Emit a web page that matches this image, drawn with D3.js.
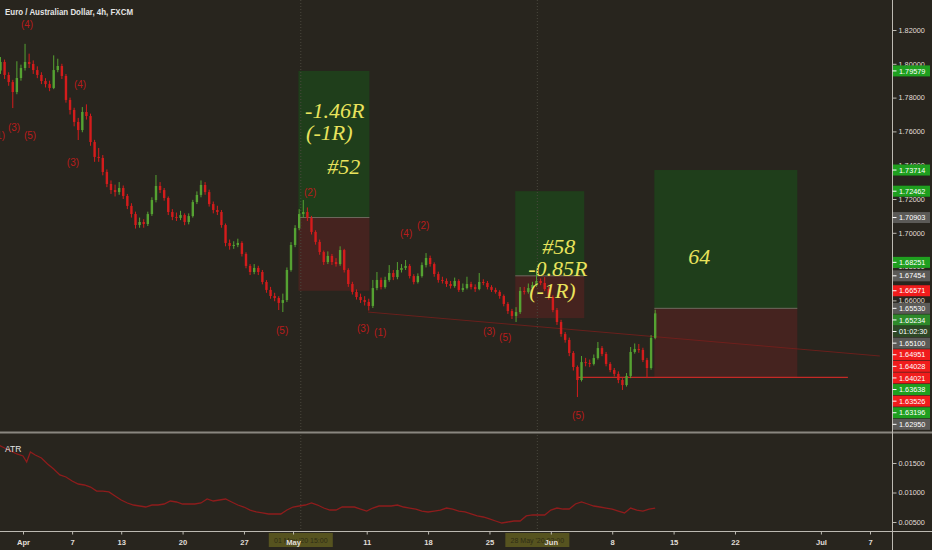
<!DOCTYPE html>
<html><head><meta charset="utf-8">
<script src="https://cdn.jsdelivr.net/npm/d3@7/dist/d3.min.js"></script>
<style>html,body{margin:0;padding:0;background:#28251e;overflow:hidden}svg{display:block}</style>
</head><body><svg id="c" width="932" height="550"></svg>
<script>
// ---------- DATA ----------
const title = "Euro / Australian Dollar, 4h, FXCM";
const firstBarDay = -2 + 1/6;     // trading-day index of first bar (Apr 1 = day 0)
const barStep = 1/3;              // bars shown every 8h
const firstOpen = 1.7960;
const closes = [1.8011,1.7934,1.7892,1.7833,1.7916,1.7975,1.8011,1.7999,1.7963,1.7934,
1.7898,1.7880,1.7857,1.7963,1.7987,1.7928,1.7786,1.7727,1.7656,1.7608,
1.7715,1.7691,1.7537,1.7449,1.7443,1.7360,1.7289,1.7253,1.7241,1.7265,
1.7218,1.7159,1.7111,1.7046,1.7064,1.7052,1.7111,1.7194,1.7277,1.7253,
1.7206,1.7123,1.7094,1.7088,1.7105,1.7064,1.7099,1.7182,1.7224,1.7283,
1.7241,1.7170,1.7135,1.7123,1.7046,1.6940,1.6922,1.6928,1.6940,1.6875,
1.6804,1.6768,1.6792,1.6768,1.6709,1.6662,1.6626,1.6614,1.6585,1.6602,
1.6780,1.6928,1.7028,1.7111,1.7123,1.7088,1.7005,1.6946,1.6886,1.6827,
1.6863,1.6827,1.6815,1.6898,1.6780,1.6697,1.6650,1.6620,1.6602,1.6591,
1.6567,1.6673,1.6721,1.6679,1.6721,1.6762,1.6738,1.6780,1.6792,1.6804,
1.6744,1.6709,1.6744,1.6809,1.6851,1.6815,1.6756,1.6721,1.6715,1.6697,
1.6685,1.6715,1.6662,1.6673,1.6697,1.6679,1.6667,1.6709,1.6703,1.6679,
1.6662,1.6650,1.6626,1.6579,1.6537,1.6508,1.6531,1.6656,1.6650,1.6673,
1.6691,1.6715,1.6703,1.6667,1.6620,1.6543,1.6472,1.6401,1.6366,1.6289,
1.6206,1.6129,1.6235,1.6230,1.6224,1.6259,1.6318,1.6283,1.6224,1.6188,
1.6165,1.6129,1.6099,1.6153,1.6295,1.6312,1.6307,1.6247,1.6200,1.6378,1.65234];
const highs = [1.8040,1.8025,1.7950,1.7905,1.8015,1.7995,1.8118,1.8060,1.8020,1.7985,
1.7950,1.7915,1.7900,1.8050,1.8030,1.8000,1.7940,1.7800,1.7740,1.7680,
1.7744,1.7760,1.7705,1.7550,1.7502,1.7460,1.7375,1.7310,1.7285,1.7300,
1.7280,1.7230,1.7175,1.7125,1.7090,1.7080,1.7125,1.7210,1.7342,1.7300,
1.7265,1.7215,1.7140,1.7120,1.7130,1.7115,1.7115,1.7195,1.7245,1.7310,
1.7300,1.7255,1.7185,1.7160,1.7135,1.7055,1.6960,1.6950,1.6965,1.6950,
1.6885,1.6815,1.6815,1.6805,1.6780,1.6720,1.6680,1.6645,1.6625,1.6640,
1.6795,1.6945,1.7045,1.7140,1.7194,1.7150,1.7100,1.7015,1.6960,1.6895,
1.6890,1.6875,1.6850,1.6920,1.6905,1.6790,1.6710,1.6665,1.6640,1.6625,
1.6610,1.6721,1.6768,1.6735,1.6740,1.6809,1.6780,1.6827,1.6815,1.6839,
1.6815,1.6755,1.6760,1.6825,1.6880,1.6865,1.6825,1.6770,1.6740,1.6730,
1.6715,1.6735,1.6725,1.6700,1.6740,1.6710,1.6695,1.6762,1.6725,1.6715,
1.6690,1.6675,1.6660,1.6635,1.6590,1.6550,1.6560,1.6679,1.6680,1.6700,
1.6710,1.6762,1.6730,1.6738,1.6680,1.6630,1.6555,1.6485,1.6413,1.6380,
1.6300,1.6215,1.6271,1.6260,1.6250,1.6280,1.6354,1.6330,1.6295,1.6235,
1.6200,1.6180,1.6140,1.6170,1.6324,1.6345,1.6342,1.6320,1.6260,1.6395,1.6545];
const lows = [1.7940,1.7910,1.7870,1.7738,1.7820,1.7900,1.7960,1.7975,1.7940,1.7915,
1.7880,1.7860,1.7838,1.7850,1.7950,1.7910,1.7770,1.7700,1.7630,1.7549,
1.7595,1.7670,1.7515,1.7420,1.7420,1.7340,1.7270,1.7230,1.7215,1.7225,
1.7200,1.7140,1.7090,1.7025,1.7030,1.7030,1.7040,1.7100,1.7180,1.7235,
1.7190,1.7105,1.7075,1.7070,1.7075,1.7045,1.7050,1.7090,1.7170,1.7210,
1.7225,1.7155,1.7115,1.7105,1.7030,1.6920,1.6900,1.6905,1.6915,1.6860,
1.6790,1.6750,1.6755,1.6750,1.6695,1.6645,1.6610,1.6595,1.6543,1.6531,
1.6590,1.6770,1.6915,1.7015,1.7090,1.7070,1.6990,1.6930,1.6870,1.6810,
1.6815,1.6810,1.6800,1.6805,1.6765,1.6680,1.6635,1.6605,1.6585,1.6570,
1.6540,1.6555,1.6660,1.6665,1.6670,1.6710,1.6720,1.6725,1.6765,1.6780,
1.6730,1.6695,1.6700,1.6735,1.6795,1.6800,1.6740,1.6705,1.6700,1.6680,
1.6670,1.6675,1.6650,1.6650,1.6665,1.6665,1.6650,1.6660,1.6690,1.6665,
1.6650,1.6640,1.6610,1.6565,1.6520,1.6490,1.6472,1.6520,1.6635,1.6640,
1.6660,1.6680,1.6690,1.6655,1.6605,1.6530,1.6455,1.6385,1.6350,1.6270,
1.6185,1.6028,1.6120,1.6210,1.6205,1.6215,1.6250,1.6270,1.6210,1.6175,
1.6150,1.6110,1.6070,1.6090,1.6140,1.6285,1.6290,1.6235,1.6140,1.6190,1.6370];

const atrDays = [-2,-1.5,-1,-0.5,0,0.3,0.6,1,1.5,2,2.5,3,3.5,4,4.5,5,5.5,6,6.5,7,7.5,8,8.5,9,9.5,10,
10.5,11,11.5,12,12.5,13,13.5,14,14.5,15,15.5,16,16.5,17,17.5,18,18.5,19,19.5,20,20.5,21,21.5,22,
22.5,23,23.5,24,24.5,25,25.5,26,26.5,27,27.5,28,28.5,29,29.5,30,30.5,31,31.5,32,32.5,33,33.5,34,
34.5,35,35.5,36,36.5,37,37.5,38,38.5,39,39.5,40,40.5,41,41.5,42,42.5,43,43.5,44,44.5,45,45.5,46,
46.5,47,47.5,48,48.5,49,49.5,50,50.5,51,51.5];
const atrValues = [0.01805,0.01754,0.01703,0.01653,0.01619,0.01517,0.01687,0.01636,0.01585,0.01483,
0.01398,0.01297,0.01263,0.01195,0.01144,0.01127,0.01093,0.01025,0.01025,0.01009,0.00941,0.00873,
0.00822,0.00788,0.00771,0.00754,0.00788,0.00788,0.00805,0.00856,0.00839,0.00805,0.00805,0.00805,
0.00822,0.0089,0.00856,0.00873,0.0089,0.00839,0.00788,0.00754,0.00703,0.0067,0.00653,0.00636,
0.00636,0.00636,0.00703,0.00754,0.00771,0.00788,0.00822,0.00788,0.00737,0.00703,0.00703,0.00754,
0.00754,0.00754,0.0072,0.00686,0.00737,0.00771,0.00771,0.00771,0.00788,0.00754,0.00737,0.0072,
0.00686,0.0067,0.00686,0.00703,0.00737,0.0072,0.00686,0.0067,0.00636,0.00602,0.00585,0.00551,
0.00517,0.00483,0.005,0.00517,0.00517,0.00602,0.00619,0.00619,0.00619,0.00703,0.00737,0.0072,
0.0072,0.00805,0.00839,0.00805,0.00771,0.00754,0.00737,0.0072,0.00686,0.00653,0.00737,0.00703,
0.00686,0.0072,0.00737];

const tickDays = [0,4,8,13,18,22,28,33,38,43,48,53,58,65,69];
const tickLabels = ["Apr","7","13","20","27","May","11","18","25","Jun","8","15","22","Jul","7"];
const priceTicks = [1.66,1.68,1.70,1.72,1.74,1.76,1.78,1.80,1.82];
const atrTicks = [0.005,0.010,0.015];

// position tool boxes
const boxStart = [22.44, 40.10, 51.43];
const boxEnd   = [28.22, 45.72, 63.08];
const boxTarget= [1.79579, 1.72462, 1.73714];
const boxEntry = [1.70903, 1.67454, 1.65530];
const boxStop  = [1.66571, 1.64951, 1.61450];

const noteTexts  = ["-1.46R","(-1R)","#52","#58","-0.85R","(-1R)","64"];
const noteDays   = [22.98, 23.06, 24.78, 42.30, 41.16, 41.24, 54.20];
const notePrices = [1.76793,1.75491,1.73479,1.68746,1.67444,1.66142,1.68154];

const waveTexts  = ["(4)","(4)","(1)","(3)","(5)","(3)","(5)","(2)","(3)","(1)","(4)","(2)","(3)","(5)","(5)"];
const waveDays   = [0.33,4.65,-1.96,-0.73,0.57,4.07,21.11,23.39,27.71,29.10,31.21,32.60,37.98,39.28,45.23];
const wavePrices = [1.82118,1.78568,1.75550,1.76024,1.75550,1.73953,1.64012,1.72178,1.64130,1.63893,1.69751,1.70225,1.63953,1.63598,1.58982];

const trendDays = [28.1, 69.8];
const trendPrices = [1.6531, 1.6271];
const levelDays = [45.15, 67.2];
const levelPrice = 1.6145;

const markerDays = [22.63, 41.9];
const markerLabels = ["01 May '20  15:00", "28 May '20  03:00"];

const badgePrices = [1.79579,1.73714,1.72462,1.70903,1.68251,1.67454,1.66571,1.65530,1.65234,1.65100,1.64951,1.64028,1.64021,1.63638,1.63526,1.63196,1.62950];
const badgeKinds  = ["up","up","up","level","up","level","down","level","last","level","down","down","down","up","down","up","level"];
const countdown = "01:02:30";

// ---------- DRAW ----------
const W = 932, H = 550;
const axisX = 892.5, mainBottom = 432, atrTop = 434, atrBottom = 531;
const BG = "#28251e";
const svg = d3.select("#c");
svg.append("rect").attr("width", W).attr("height", H).attr("fill", BG);

const x = d3.scaleLinear().domain([0, 69]).range([23, 870]);
const y = d3.scaleLinear().domain([1.66, 1.82]).range([300.4, 30]);
const ya = d3.scaleLinear().domain([0.005, 0.015]).range([522, 463]);

const defs = svg.append("defs");
defs.append("clipPath").attr("id","cm").append("rect").attr("x",0).attr("y",0).attr("width",axisX).attr("height",mainBottom);
defs.append("clipPath").attr("id","ca").append("rect").attr("x",0).attr("y",atrTop).attr("width",axisX).attr("height",atrBottom-atrTop);

const main = svg.append("g").attr("clip-path","url(#cm)");

// date marker vertical lines
svg.append("g").selectAll("line").data(markerDays).join("line")
  .attr("x1", d => x(d)).attr("x2", d => x(d)).attr("y1", 0).attr("y2", atrBottom)
  .attr("stroke", "#4a473e").attr("stroke-width", 1).attr("stroke-dasharray", "1,2");

// position boxes
boxStart.forEach((s, i) => {
  const x0 = x(s), x1 = x(boxEnd[i]);
  main.append("rect").attr("x", x0).attr("width", x1 - x0)
    .attr("y", y(boxTarget[i])).attr("height", y(boxEntry[i]) - y(boxTarget[i]))
    .attr("fill", "#1f3e1b");
  main.append("rect").attr("x", x0).attr("width", x1 - x0)
    .attr("y", y(boxEntry[i])).attr("height", y(boxStop[i]) - y(boxEntry[i]))
    .attr("fill", "#45231f");
  main.append("line").attr("x1", x0).attr("x2", x1).attr("y1", y(boxEntry[i])).attr("y2", y(boxEntry[i]))
    .attr("stroke", "#6f6a5f").attr("stroke-width", 1);
});

// trend line & level line
main.append("line").attr("x1", x(trendDays[0])).attr("x2", x(trendDays[1]))
  .attr("y1", y(trendPrices[0])).attr("y2", y(trendPrices[1]))
  .attr("stroke", "#7a1f1c").attr("stroke-width", 1).attr("opacity", 0.8);
main.append("line").attr("x1", x(levelDays[0])).attr("x2", x(levelDays[1]))
  .attr("y1", y(levelPrice)).attr("y2", y(levelPrice))
  .attr("stroke", "#c42a26").attr("stroke-width", 1.2);

// candles
const bars = closes.map((c, i) => ({
  day: firstBarDay + i * barStep,
  o: i ? closes[i - 1] : firstOpen, h: highs[i], l: lows[i], c
}));
const GREEN = "#55a232", RED = "#d41c1c";
const cg = main.append("g");
cg.selectAll("line").data(bars).join("line")
  .attr("x1", d => x(d.day)).attr("x2", d => x(d.day))
  .attr("y1", d => y(d.h)).attr("y2", d => y(d.l))
  .attr("stroke", d => d.c >= d.o ? GREEN : RED).attr("stroke-width", 1);
cg.selectAll("rect").data(bars).join("rect")
  .attr("x", d => x(d.day) - 1.2).attr("width", 2.4)
  .attr("y", d => y(Math.max(d.o, d.c)))
  .attr("height", d => Math.max(1, Math.abs(y(d.o) - y(d.c))))
  .attr("fill", d => d.c >= d.o ? GREEN : RED);

// wave labels
main.append("g").selectAll("text").data(waveTexts).join("text")
  .attr("x", (d, i) => x(waveDays[i])).attr("y", (d, i) => y(wavePrices[i]))
  .attr("text-anchor", "middle").attr("font-family", "Liberation Sans, Arial, sans-serif")
  .attr("font-size", 10).attr("fill", "#b81c1c").text(d => d);

// notes
main.append("g").selectAll("text").data(noteTexts).join("text")
  .attr("x", (d, i) => x(noteDays[i])).attr("y", (d, i) => y(notePrices[i]))
  .attr("font-family", "Liberation Serif, Times New Roman, serif").attr("font-style", "italic")
  .attr("font-size", 22).attr("fill", "#e9e35c").text(d => d);

// title
svg.append("text").attr("x", 5).attr("y", 15).attr("font-family", "Liberation Sans, Arial, sans-serif")
  .attr("font-weight", "bold").attr("font-size", 9.5).attr("fill", "#e4e4e4")
  .attr("textLength", 128).attr("lengthAdjust", "spacingAndGlyphs").text(title);

// ATR panel
const atrG = svg.append("g").attr("clip-path", "url(#ca)");
atrG.append("path").datum(atrDays.map((d, i) => [d, atrValues[i]]))
  .attr("d", d3.line().x(d => x(d[0])).y(d => ya(d[1])))
  .attr("fill", "none").attr("stroke", "#8e1c1c").attr("stroke-width", 1.3);
svg.append("text").attr("x", 5).attr("y", 452).attr("font-family", "Liberation Sans, Arial, sans-serif")
  .attr("font-size", 8.5).attr("fill", "#e4e4e4").text("ATR");

// separators / axis lines
svg.append("line").attr("x1", 0).attr("x2", W).attr("y1", 432.5).attr("y2", 432.5).attr("stroke", "#8a8780").attr("stroke-width", 2);
svg.append("line").attr("x1", 0).attr("x2", W).attr("y1", atrBottom + 0.5).attr("y2", atrBottom + 0.5).attr("stroke", "#bdbab2").attr("stroke-width", 1);
svg.append("line").attr("x1", axisX).attr("x2", axisX).attr("y1", 0).attr("y2", H).attr("stroke", "#bdbab2").attr("stroke-width", 1);

const FONT = "Liberation Sans, Arial, sans-serif";
function styleAxis(g) {
  g.select(".domain").remove();
  g.selectAll(".tick line").attr("stroke", "#bdbab2");
  g.selectAll(".tick text").attr("fill", "#e0ded8").attr("font-family", FONT).attr("font-size", 7.3);
}
// price axis
svg.append("g").attr("transform", `translate(${axisX},0)`)
  .call(d3.axisRight(y).tickValues(priceTicks).tickFormat(d => d.toFixed(5)).tickSize(4).tickPadding(2))
  .call(styleAxis);
// atr axis
svg.append("g").attr("transform", `translate(${axisX},0)`)
  .call(d3.axisRight(ya).tickValues(atrTicks).tickFormat(d => d.toFixed(5)).tickSize(4).tickPadding(2))
  .call(styleAxis);

// marker labels on x-axis
const ml = svg.append("g");
markerDays.forEach((d, i) => {
  ml.append("rect").attr("x", x(d) - 32).attr("y", 533).attr("width", 64).attr("height", 14).attr("fill", "#56531f");
  ml.append("text").attr("x", x(d)).attr("y", 543).attr("text-anchor", "middle").attr("font-family", FONT)
    .attr("font-size", 7).attr("fill", "#2f2d15").text(markerLabels[i]);
});

// time axis
svg.append("g").attr("transform", `translate(0,${atrBottom + 0.5})`)
  .call(d3.axisBottom(x).tickValues(tickDays).tickFormat((d, i) => tickLabels[i]).tickSize(3).tickPadding(5))
  .call(g => { styleAxis(g); g.selectAll(".tick text").attr("font-size", 7.6).attr("font-weight", "bold"); });

// price badges (stacked)
const colorOf = { up: "#1f9f1f", down: "#f01c1c", level: "#5b5a57", last: "#2e8a2a", timer: "#2e4826" };
const items = [];
badgePrices.forEach((p, i) => {
  items.push({ p, kind: badgeKinds[i], label: p.toFixed(5) });
  if (badgeKinds[i] === "last") items.push({ p: p - 1e-6, kind: "timer", label: countdown });
});
items.sort((a, b) => b.p - a.p);
let prev = -Infinity;
items.forEach(it => { it.cy = Math.max(y(it.p), prev + 11.6); prev = it.cy; });
const bg = svg.append("g");
bg.selectAll("rect").data(items).join("rect")
  .attr("x", axisX + 0.5).attr("y", d => d.cy - 5.5).attr("width", 37).attr("height", 11)
  .attr("fill", d => colorOf[d.kind]);
bg.selectAll("line").data(items).join("line")
  .attr("x1", axisX).attr("x2", axisX + 4).attr("y1", d => d.cy).attr("y2", d => d.cy)
  .attr("stroke", "#ffffff").attr("stroke-width", 1);
bg.selectAll("text").data(items).join("text")
  .attr("x", axisX + 6.5).attr("y", d => d.cy + 2.6).attr("font-family", FONT).attr("font-size", 7.3)
  .attr("fill", "#ffffff").text(d => d.label);
</script>
</body></html>
